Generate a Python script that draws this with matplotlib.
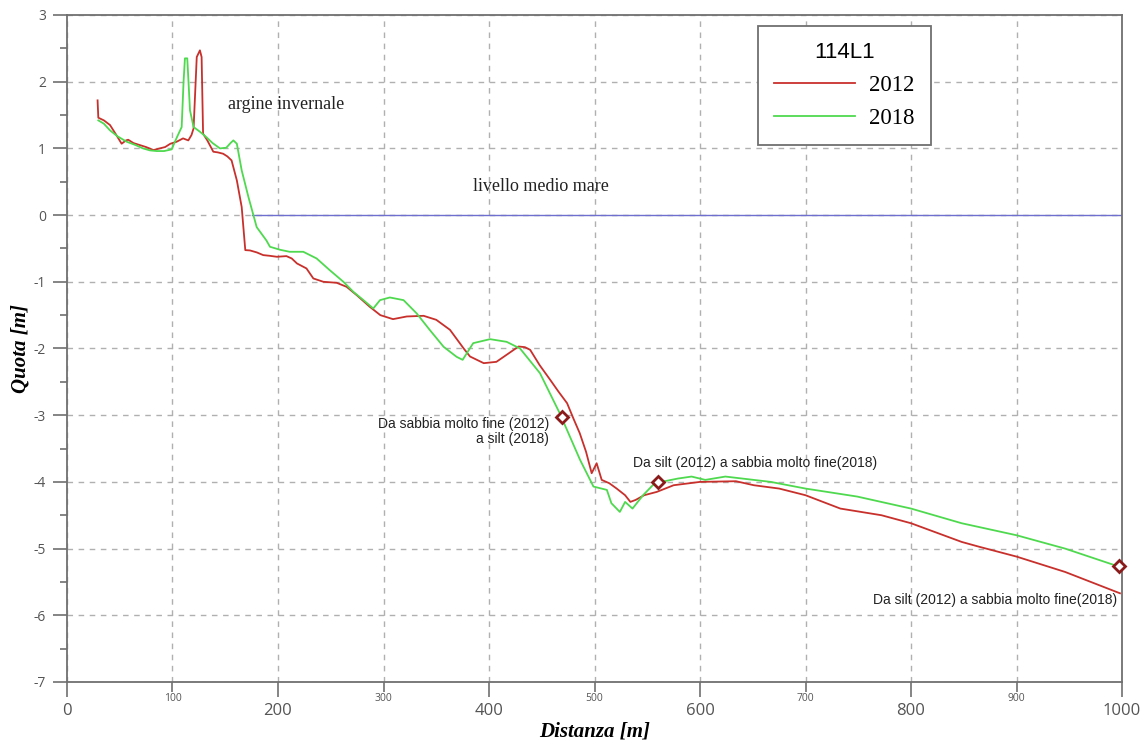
import matplotlib.pyplot as plt
from matplotlib.ticker import MultipleLocator, FixedLocator

plt.rcParams["axes.unicode_minus"] = False

# Profilo 2012 (rosso)
dist_2012 = [29, 29.7, 35, 40.8, 46, 51.8, 56, 58, 63, 69, 75, 82, 88, 93, 98, 104,
             110, 115, 118, 120, 123, 126, 127.6, 129, 133, 138.7, 143, 148, 152, 156,
             161, 165.6, 169, 173.5, 180, 186, 192, 199, 208, 213, 218, 227, 233.5, 243,
             255.6, 265, 274.6, 287, 297, 309, 322, 338, 350, 363, 376, 382, 395, 407,
             418, 428, 434, 439, 448, 458, 466, 474, 480, 486, 492, 497.3, 502, 506.8,
             514, 521, 529, 534, 539, 547, 559, 575, 600, 634, 651, 675, 700, 733, 772,
             800, 848, 864, 900, 946, 998]
quota_2012 = [1.72, 1.46, 1.42, 1.35, 1.22, 1.07, 1.12, 1.13, 1.08, 1.05, 1.02, 0.975,
              1.0, 1.02, 1.07, 1.1, 1.15, 1.12, 1.2, 1.3, 2.37, 2.47, 2.37, 1.22, 1.12,
              0.95, 0.94, 0.92, 0.88, 0.82, 0.52, 0.12, -0.525, -0.53, -0.56, -0.6, -0.61,
              -0.625, -0.615, -0.65, -0.725, -0.8, -0.95, -1.0, -1.015, -1.075, -1.2,
              -1.375, -1.5, -1.56, -1.52, -1.51, -1.57, -1.72, -2.0, -2.12, -2.22, -2.2,
              -2.08, -1.97, -1.98, -2.02, -2.25, -2.47, -2.65, -2.82, -3.05, -3.27, -3.55,
              -3.87, -3.72, -3.97, -4.02, -4.1, -4.2, -4.3, -4.27, -4.2, -4.15, -4.05,
              -4.0, -3.99, -4.05, -4.1, -4.2, -4.4, -4.5, -4.62, -4.9, -4.97, -5.12,
              -5.35, -5.67]

# Profilo 2018 (verde)
dist_2018 = [29.7, 35, 40.8, 48, 56.6, 65, 72, 78.7, 85, 92, 99.2, 104, 108.7, 110.5,
             111.8, 114, 116.6, 120, 126, 132, 138, 145, 151, 155, 157.7, 161, 165.6,
             172, 179.8, 189, 192.4, 202, 211, 224, 236.6, 249, 262, 271.4, 281, 290.3,
             296.7, 306, 319, 331.5, 344, 357, 369.3, 375, 385, 401, 416.7, 429.4,
             448.3, 467, 486.3, 499, 511.7, 516, 524, 529, 536, 546, 557, 579, 592, 605,
             624, 667, 700, 749, 800, 848, 900, 946, 997]
quota_2018 = [1.42, 1.37, 1.27, 1.18, 1.10, 1.05, 1.0, 0.97, 0.96, 0.96, 0.985, 1.16,
              1.32, 2.0, 2.35, 2.35, 1.57, 1.32, 1.25, 1.17, 1.08, 1.0, 1.01, 1.08, 1.12,
              1.07, 0.67, 0.27, -0.18, -0.38, -0.475, -0.52, -0.55, -0.55, -0.65, -0.825,
              -1.0, -1.15, -1.275, -1.4, -1.275, -1.235, -1.275, -1.475, -1.725, -1.975,
              -2.125, -2.17, -1.92, -1.86, -1.9, -2.0, -2.37, -2.97, -3.67, -4.07, -4.12,
              -4.32, -4.45, -4.3, -4.4, -4.2, -4.02, -3.95, -3.92, -3.97, -3.92, -4.0,
              -4.1, -4.22, -4.4, -4.62, -4.8, -5.0, -5.27]

# Livello medio mare
lmm_x = [175, 1000]
lmm_y = [0, 0]

# Punti di campionamento
camp_x = [469, 560, 997]
camp_y = [-3.02, -4.0, -5.26]

fig = plt.figure(figsize=(11.41, 7.46), dpi=100)
ax = fig.add_axes([0.0587, 0.0858, 0.9247, 0.8941])

ax.plot(lmm_x, lmm_y, color="#6f6fd0", lw=1.0)
ax.plot(dist_2012, quota_2012, color="#c8302c", lw=1.3, label="2012")
ax.plot(dist_2018, quota_2018, color="#4fd94f", lw=1.3, label="2018")
ax.plot(camp_x, camp_y, linestyle="none", marker="D", markersize=6,
        markerfacecolor="white", markeredgecolor="#8b1a1a", markeredgewidth=2,
        clip_on=False, zorder=5)

ax.set_xlim(0, 1000)
ax.set_ylim(-7, 3)

# Assi e griglia
ax.xaxis.set_major_locator(FixedLocator([0, 200, 400, 600, 800, 1000]))
ax.xaxis.set_minor_locator(FixedLocator([100, 300, 500, 700, 900]))
ax.yaxis.set_major_locator(MultipleLocator(1))
ax.yaxis.set_minor_locator(MultipleLocator(0.5))
ax.xaxis.set_minor_formatter(plt.FuncFormatter(lambda v, p: f"{v:.0f}"))

ax.tick_params(axis="x", which="major", length=11, width=1.2, color="#707070",
               labelsize=12, labelcolor="#555555", pad=4)
ax.tick_params(axis="x", which="minor", length=7, width=1.2, color="#707070",
               labelsize=7.5, labelcolor="#555555", pad=1)
ax.tick_params(axis="y", which="major", length=10, width=1.2, color="#707070",
               labelsize=10, labelcolor="#555555", pad=5)
ax.tick_params(axis="y", which="minor", length=5, width=1.2, color="#707070")
for lab in ax.get_xticklabels(which="both") + ax.get_yticklabels():
    lab.set_family("Open Sans")

ax.grid(True, which="major", axis="y", color="#b0b0b0", linestyle=(0, (4, 4)), lw=1)
ax.grid(True, which="both", axis="x", color="#b0b0b0", linestyle=(0, (4, 4)), lw=1)

for sp in ax.spines.values():
    sp.set_color("#707070")
    sp.set_linewidth(1.3)

ax.set_xlabel("Distanza [m]", family="Liberation Serif", fontsize=15,
              fontweight="bold", fontstyle="italic", labelpad=2)
ax.set_ylabel("Quota [m]", family="Liberation Serif", fontsize=15,
              fontweight="bold", fontstyle="italic", labelpad=2)

# Testi
ax.text(153, 1.66, "argine invernale", family="Liberation Serif", fontsize=13,
        va="center", color="#222222")
ax.text(385, 0.43, "livello medio mare", family="Liberation Serif", fontsize=13,
        va="center", color="#222222")
ax.text(457, -3.25, "Da sabbia molto fine (2012)\na silt (2018)", family="Liberation Sans",
        fontsize=10, ha="right", va="center", color="#222222", linespacing=1.1)
ax.text(536, -3.72, "Da silt (2012) a sabbia molto fine(2018)", family="Liberation Sans",
        fontsize=10, ha="left", va="center", color="#222222")
ax.text(995, -5.77, "Da silt (2012) a sabbia molto fine(2018)", family="Liberation Sans",
        fontsize=10, ha="right", va="center", color="#222222")

leg = ax.legend(loc="upper left", bbox_to_anchor=(0.655, 0.9835), title="114L1",
                prop={"family": "Liberation Serif", "size": 16.5}, fancybox=False,
                edgecolor="#707070", framealpha=1, handlelength=3.55,
                borderpad=0.7, labelspacing=0.52, handletextpad=0.6,
                borderaxespad=0)
leg.get_title().set_fontsize(16)
leg.get_title().set_family("Liberation Sans")
leg.get_frame().set_linewidth(1.3)

plt.savefig("out.png", dpi=100)
